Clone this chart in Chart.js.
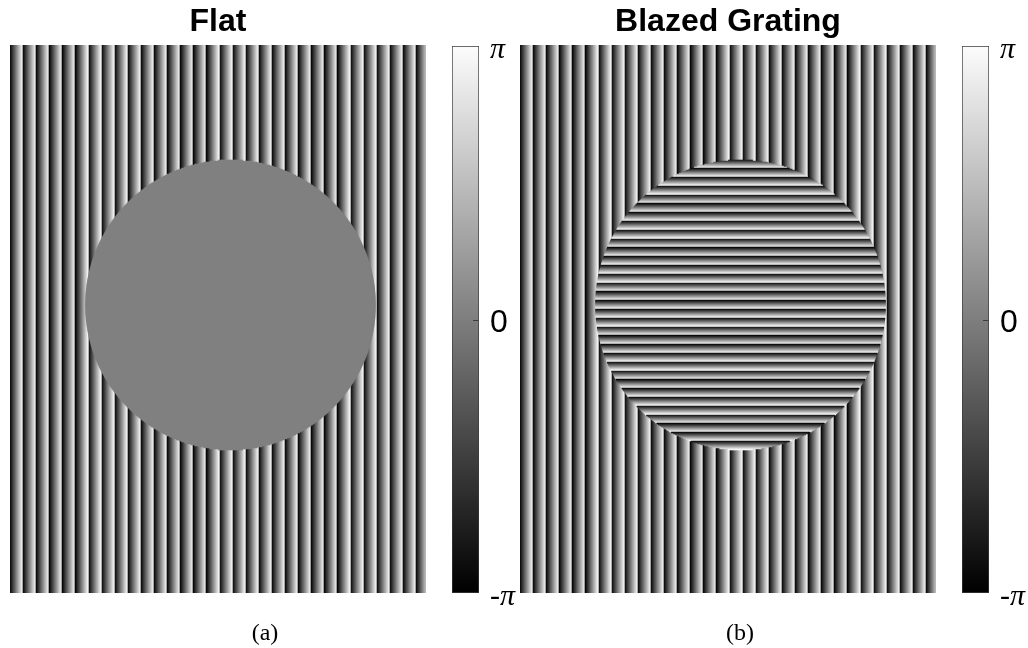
<!DOCTYPE html>
<html>
<head>
<meta charset="utf-8">
<script src="https://cdn.jsdelivr.net/npm/chart.js@4.4.1/dist/chart.umd.min.js"></script>
<style>
  html, body { margin: 0; padding: 0; background: #fff; width: 1028px; height: 648px; overflow: hidden; }
  body { position: relative; }
  canvas { position: absolute; top: 0; }
  .cap { position: absolute; top: 620px; width: 200px; line-height: 24px; text-align: center;
         font-family: 'Liberation Serif', 'DejaVu Serif', serif; font-size: 24px; color: #000; }
</style>
</head>
<body>
<canvas id="mapA" width="440" height="648" style="left:0px"></canvas>
<canvas id="barA" width="90" height="648" style="left:440px"></canvas>
<canvas id="mapB" width="450" height="648" style="left:500px"></canvas>
<canvas id="barB" width="78" height="648" style="left:950px"></canvas>
<div class="cap" style="left:165px">(a)</div>
<div class="cap" style="left:640px">(b)</div>

<script>
// ---- phase-map description (SLM pixel units) ----
const panelTitles    = ['Flat', 'Blazed Grating'];
const slmSize        = [416, 548];          // columns, rows
const outerPeriod    = [13.1];              // pixels per 2π of the vertical (background) grating
const innerPeriod    = [8.8];               // pixels per 2π of the horizontal grating inside the aperture
const apertureCenter = [220.5, 260];        // column, row
const apertureRadius = [145];
const flatPhase      = [0];                 // constant phase inside the aperture of panel (a)

// ---- colour bar ----
const colorbarTicks  = [-Math.PI, 0, Math.PI];
const colorbarLabels = ['-π', '0', 'π'];

const COLS = slmSize[0], ROWS = slmSize[1];
const TWO_PI = 2 * Math.PI;
const frac = v => v - Math.floor(v);

// phase in [-π, π) -> gray level (black = -π, white = π)
function grayOf(phase) {
  const t = Math.max(0, Math.min(1, (phase + Math.PI) / TWO_PI));
  const g = Math.round(t * 255);
  return 'rgb(' + g + ',' + g + ',' + g + ')';
}
const outerPhase = x => TWO_PI * frac(x / outerPeriod[0]) - Math.PI;
const gratingPhase = y => TWO_PI * frac(y / innerPeriod[0]) - Math.PI;

const barStyle = { barPercentage: 1, categoryPercentage: 1, borderWidth: 0, grouped: false };

// every SLM column as one full-height floating bar (drawn underneath)
function columnDataset() {
  const data = [], colors = [];
  for (let c = 0; c < COLS; c++) {
    const x = c + 0.5;
    data.push({ x: x, y: [0, ROWS] });
    colors.push(grayOf(outerPhase(x)));
  }
  return Object.assign({ data, backgroundColor: colors, xAxisID: 'x', yAxisID: 'y', indexAxis: 'x', order: 2 }, barStyle);
}

// every SLM row crossing the circular aperture as one horizontal floating bar (drawn on top)
function apertureDataset(phaseOfRow) {
  const data = [], colors = [];
  const cx = apertureCenter[0], cy = apertureCenter[1], R = apertureRadius[0];
  for (let r = 0; r < ROWS; r++) {
    const y = r + 0.5, dy = y - cy;
    if (Math.abs(dy) >= R) continue;
    const h = Math.sqrt(R * R - dy * dy);
    data.push({ x: [cx - h, cx + h], y: y });
    colors.push(grayOf(phaseOfRow(y)));
  }
  return Object.assign({ data, backgroundColor: colors, xAxisID: 'x2', yAxisID: 'y2', indexAxis: 'y', order: 1 }, barStyle);
}

function phaseMap(canvasId, title, padL, padR, innerDataset) {
  const hidden = { display: false, offset: false };
  return new Chart(document.getElementById(canvasId), {
    type: 'bar',
    data: { datasets: [innerDataset, columnDataset()] },
    options: {
      responsive: false, animation: false, events: [],
      layout: { padding: { left: padL, right: padR, top: 0, bottom: 55 } },
      plugins: {
        legend: { display: false }, tooltip: { enabled: false },
        title: {
          display: true, text: title, color: '#000',
          font: { family: "'Liberation Sans', Arial, sans-serif", size: 32, weight: 'bold', lineHeight: 1.2 },
          padding: { top: 3, bottom: 3.6 }
        }
      },
      scales: {
        x:  Object.assign({ type: 'linear', axis: 'x', min: 0, max: COLS }, hidden),
        y:  Object.assign({ type: 'linear', axis: 'y', min: 0, max: ROWS, reverse: true }, hidden),
        x2: Object.assign({ type: 'linear', axis: 'x', min: 0, max: COLS }, hidden),
        y2: Object.assign({ type: 'linear', axis: 'y', min: 0, max: ROWS, reverse: true }, hidden)
      }
    }
  });
}

// short inward tick at phase 0 on the colour bar's right edge
const zeroTick = {
  id: 'zeroTick',
  afterDatasetsDraw(chart) {
    const a = chart.chartArea, c = chart.ctx;
    const y = Math.round(chart.scales.y.getPixelForValue(0)) + 0.5;
    c.save();
    c.strokeStyle = '#3a3a3a'; c.lineWidth = 1;
    c.beginPath(); c.moveTo(a.right - 6, y); c.lineTo(a.right - 0.5, y); c.stroke();
    c.restore();
  }
};

function colorbar(canvasId, padL, axisWidth) {
  return new Chart(document.getElementById(canvasId), {
    type: 'bar',
    data: {
      labels: [''],
      datasets: [{
        data: [[colorbarTicks[0], colorbarTicks[2]]],
        backgroundColor(ctx) {
          const chart = ctx.chart, s = chart.scales.y;
          if (!s || !chart.chartArea) return '#808080';
          const g = chart.ctx.createLinearGradient(0, s.getPixelForValue(colorbarTicks[0]), 0, s.getPixelForValue(colorbarTicks[2]));
          g.addColorStop(0, '#000');
          g.addColorStop(1, '#fcfcfc');
          return g;
        },
        borderColor: '#3a3a3a', borderWidth: 1, borderSkipped: false,
        barPercentage: 1, categoryPercentage: 1
      }]
    },
    options: {
      responsive: false, animation: false, events: [],
      layout: { padding: { left: padL, right: 0, top: 46, bottom: 55 } },
      plugins: { legend: { display: false }, tooltip: { enabled: false } },
      scales: {
        x: { display: false },
        y: {
          position: 'right', min: colorbarTicks[0], max: colorbarTicks[2],
          grid: { display: false, drawTicks: false }, border: { display: false },
          afterBuildTicks(s) { s.ticks = colorbarTicks.map(v => ({ value: v })); },
          afterFit(s) { s.width = axisWidth; },
          ticks: {
            padding: 11, color: '#000', labelOffset: 4,
            font(ctx) {
              return (ctx.tick && ctx.tick.value === 0)
                ? { family: "'Liberation Sans', Arial, sans-serif", size: 32 }
                : { family: "'Liberation Serif', 'DejaVu Serif', serif", size: 30, style: 'italic' };
            },
            callback(v, i) { return colorbarLabels[i]; }
          }
        }
      }
    },
    plugins: [zeroTick]
  });
}

phaseMap('mapA', panelTitles[0], 10, 14, apertureDataset(() => flatPhase[0]));
phaseMap('mapB', panelTitles[1], 20, 14, apertureDataset(gratingPhase));
colorbar('barA', 12, 51);
colorbar('barB', 12, 39);
</script>
</body>
</html>
